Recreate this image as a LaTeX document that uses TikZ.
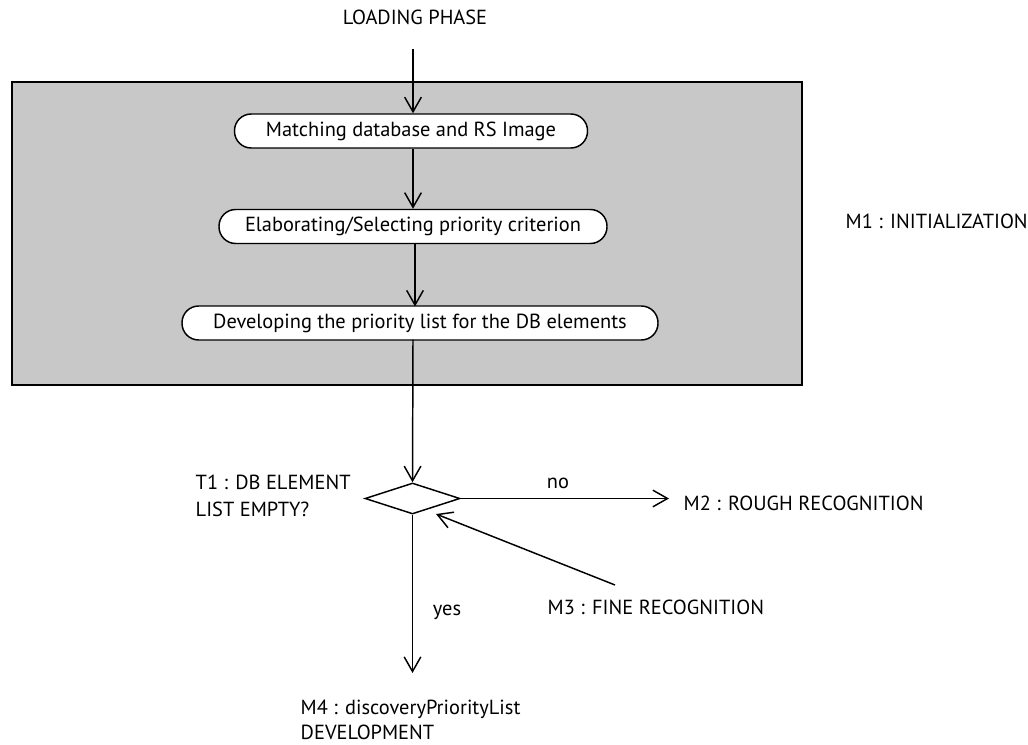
\documentclass[tikz,border=0pt]{standalone}
\usepackage{fontspec}
\setmainfont{PT Sans}
\usetikzlibrary{arrows.meta,shapes.geometric}
\definecolor{boxgray}{RGB}{200,200,200}
\begin{document}
\begin{tikzpicture}[x=0.75pt,y=-0.75pt,
  font=\fontsize{15.3}{19}\selectfont,
  line width=1.1pt,
  arr/.style={-{Straight Barb[length=11pt,width=12.5pt,line width=1.1pt]}},
  stadium/.style={draw,fill=white,rounded corners=12.5pt,minimum height=25.5pt,inner sep=0pt},
  lbl/.style={inner sep=0pt},
  decision/.style={draw,fill=white,diamond,minimum width=71.25pt,minimum height=23.25pt,inner sep=0pt}]
\useasboundingbox (0,0) rectangle (1028,745);
\draw[fill=boxgray] (12,82) rectangle (802,385);
\node[lbl] (load) at (415,17) {LOADING PHASE};
\coordinate (loadstart) at (413,49);
\node[stadium,minimum width=264.75pt] (b1) at (411,131) {Matching database and RS Image};
\node[stadium,minimum width=291pt] (b2) at (413,226.5) {Elaborating/Selecting priority criterion};
\node[stadium,minimum width=357pt] (b3) at (420,323) {Developing the priority list for the DB elements};
\node[lbl,anchor=west] (m1) at (845,221) {M1 : INITIALIZATION};
\node[decision] (d) at (412.5,498.5) {};
\node[lbl,anchor=north west,align=left,font=\fontsize{15.3}{20.5}\selectfont] (t1) at (195,474) {T1 : DB ELEMENT\\LIST EMPTY?};
\coordinate (m2tip) at (669,498.5);
\node[lbl,anchor=west] (m2) at (683,503) {M2 : ROUGH RECOGNITION};
\node[lbl] (no) at (558,483) {no};
\node[lbl,anchor=west] (m3) at (547,607) {M3 : FINE RECOGNITION};
\coordinate (m3s) at (615,585);
\coordinate (m3tip) at (436,514);
\node[lbl] (yes) at (447,612) {yes};
\coordinate (m4tip) at (412.5,673);
\node[lbl,anchor=north west,align=left] (m4) at (300,699) {M4 : discoveryPriorityList\\DEVELOPMENT};
\draw[arr] (loadstart) -- (loadstart |- b1.north);
\draw[arr] (b1.south -| loadstart) -- (b2.north -| loadstart);
\draw[arr] (415,243) -- (415,306.5);
\draw[arr] (413,339.5) -- (d.north);
\draw[arr] (d.east) -- (m2tip);
\draw[arr] (m3s) -- (m3tip);
\draw[arr] (d.south) -- (m4tip);
\end{tikzpicture}
\end{document}
